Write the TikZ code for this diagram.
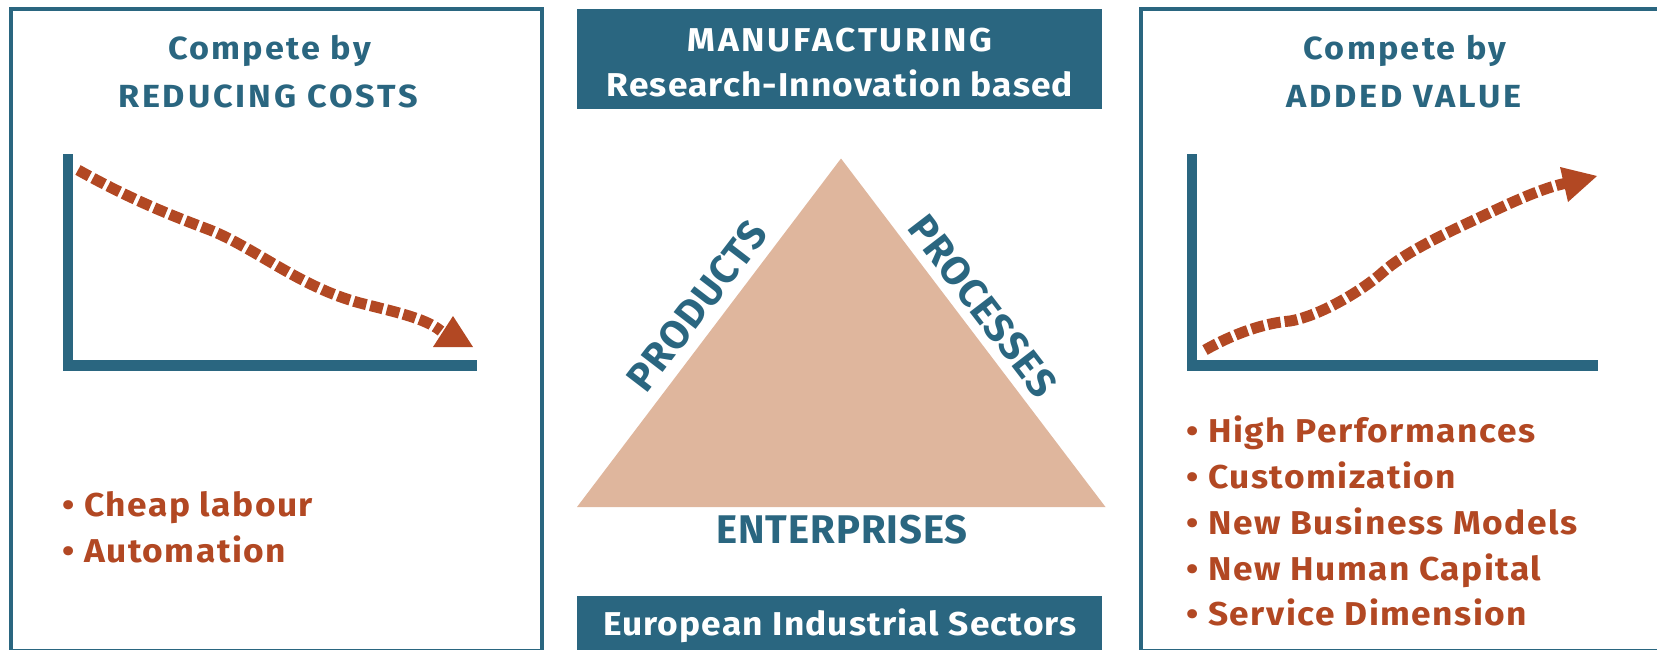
\documentclass[tikz,border=0pt]{standalone}
\usepackage{fontspec}
\setmainfont{Fira Sans}
\definecolor{cblue}{RGB}{42,102,128}
\definecolor{corange}{RGB}{178,72,35}
\definecolor{ctri}{RGB}{223,182,157}
\newcommand{\spaced}[1]{\addfontfeatures{FakeStretch=1.07,LetterSpace=#1}}
\tikzset{
  frame/.style={draw=cblue, line width=4pt},
  axisline/.style={draw=cblue, line width=10.5pt},
  trend/.style={draw=corange, line width=11pt, dash pattern=on 13pt off 4pt},
  tiphead/.style={fill=corange},
  titletxt/.style={text=cblue, font=\bfseries\fontsize{32}{38}\selectfont\spaced{7}, inner sep=0pt, anchor=base},
  bandbox/.style={fill=cblue},
  bandtxt/.style={text=white, font=\bfseries\fontsize{33}{38}\selectfont\spaced{3.5}, inner sep=0pt, anchor=base},
  sidetxt/.style={text=cblue, font=\bfseries\fontsize{40}{46}\selectfont\addfontfeatures{LetterSpace=2.5}, inner sep=0pt},
  itemtxt/.style={text=corange, font=\bfseries\fontsize{33}{38}\selectfont\spaced{4.5}, inner sep=0pt, anchor=base west}
}
\begin{document}
\begin{tikzpicture}[x=1pt,y=-1pt]
\useasboundingbox (0,0) rectangle (1657,649);
% side frames
\draw[frame] (10.5,8.5) rectangle (542,651);
\draw[frame] (1141,8.5) rectangle (1690,651);
% left panel
\node[titletxt] (lt1) at (269.5,59) {Compete by};
\node[titletxt, font=\bfseries\fontsize{32}{38}\selectfont\spaced{9}] (lt2) at (268,107) {REDUCING COSTS};
\draw[axisline] (68,154) -- (68,371);
\draw[axisline] (63,365.5) -- (477,365.5);
\draw[trend] (78,170) .. controls (130,199) and (170,215) .. (210,230)
  .. controls (255,248) and (300,287) .. (360,303)
  .. controls (395,312) and (425,318) .. (441,331);
\fill[tiphead] (433,347) -- (473,347) -- (453,316) -- cycle;
\node[itemtxt] (l1) at (62,516) {• Cheap labour};
\node[itemtxt] (l2) at (62,562) {• Automation};
% right panel
\node[titletxt] (rt1) at (1405,59) {Compete by};
\node[titletxt, font=\bfseries\fontsize{32}{38}\selectfont\spaced{9}] (rt2) at (1404,107) {ADDED VALUE};
\draw[axisline] (1192,154) -- (1192,371);
\draw[axisline] (1187,365.5) -- (1598,365.5);
\draw[trend] (1205,350) .. controls (1235,333) and (1265,323) .. (1290,321)
  .. controls (1320,316) and (1363,290) .. (1383,272)
  .. controls (1403,254) and (1440,236) .. (1470,222)
  .. controls (1500,208) and (1540,188) .. (1567,183);
\fill[tiphead] (1560,167) -- (1597,176) -- (1568,202) -- cycle;
\node[itemtxt] (r1) at (1186,442.5) {• High Performances};
\node[itemtxt] (r2) at (1186,488.5) {• Customization};
\node[itemtxt] (r3) at (1186,534.5) {• New Business Models};
\node[itemtxt] (r4) at (1186,580) {• New Human Capital};
\node[itemtxt] (r5) at (1186,625.5) {• Service Dimension};
% centre
\fill[bandbox] (577,8.5) rectangle (1102,108.5);
\node[bandtxt, font=\bfseries\fontsize{33}{38}\selectfont\spaced{8.5}] (m1) at (840,51) {MANUFACTURING};
\node[bandtxt] (m2) at (840,96) {Research-Innovation based};
\fill[ctri] (577,507) -- (841,158.5) -- (1105.5,507) -- cycle;
\node[sidetxt, rotate=52.5] (p1) at (697,306) {PRODUCTS};
\node[sidetxt, rotate=-52.5] (p2) at (983,306) {PROCESSES};
\node[sidetxt, anchor=base] (p3) at (842,543) {ENTERPRISES};
\fill[bandbox] (577,596) rectangle (1102,660);
\node[bandtxt] (e1) at (840,635) {European Industrial Sectors};
\end{tikzpicture}
\end{document}
